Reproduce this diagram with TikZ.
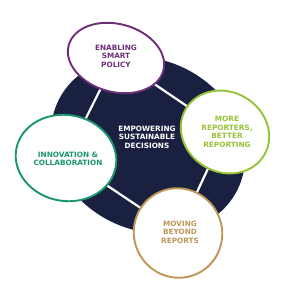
\documentclass[tikz,border=0pt]{standalone}
\usepackage{fontspec}
\setmainfont{DejaVu Sans}
\definecolor{navyblue}{RGB}{26,33,64}
\definecolor{plum}{RGB}{110,45,120}
\definecolor{lime}{RGB}{150,195,55}
\definecolor{teal}{RGB}{25,150,110}
\definecolor{ochre}{RGB}{190,150,85}
\usetikzlibrary{shapes.geometric}

\begin{document}
\begin{tikzpicture}[x=1pt, y=1pt,
    bubble/.style={ellipse, fill=white, line width=1.9pt, inner sep=0pt},
    label/.style={font=\fontsize{7.3}{8.5}\selectfont\bfseries, align=center},
    link/.style={white, line width=2.2pt},
  ]
    \useasboundingbox (0,0) rectangle (300,300);
    % dark disc behind everything
    \fill[navyblue, rotate around={-27:(148,155)}] (148,155) ellipse [x radius=100, y radius=85];
    \node[label, text=white] (core) at (147,163) {EMPOWERING\\SUSTAINABLE\\DECISIONS};
    % white gaps between the outer bubbles
    \coordinate (cpolicy) at (116,242);
    \coordinate (creport) at (225,168);
    \coordinate (cbeyond) at (178,67);
    \coordinate (cinnov) at (66,142);
    \draw[link] (cpolicy) -- (creport) -- (cbeyond) -- (cinnov) -- (cpolicy);
    \node[bubble, draw=plum, minimum width=98pt, minimum height=68pt, rotate=-15] (policy) at (cpolicy) {};
    \node[bubble, draw=lime, minimum width=91pt, minimum height=80pt, rotate=-30] (report) at (creport) {};
    \node[bubble, draw=ochre, minimum width=90pt, minimum height=88pt, rotate=-60] (beyond) at (cbeyond) {};
    \node[bubble, draw=teal, minimum width=101pt, minimum height=86pt, rotate=-10] (innov) at (cinnov) {};
    \node[label, text=plum] (policytxt) at (116,244) {ENABLING\\SMART\\POLICY};
    \node[label, text=lime] (reporttxt) at (227,168) {MORE\\REPORTERS,\\BETTER\\REPORTING};
    \node[label, text=ochre] (beyondtxt) at (180,68) {MOVING\\BEYOND\\REPORTS};
    \node[label, text=teal] (innovtxt) at (68,141) {INNOVATION \&\\COLLABORATION};
  \end{tikzpicture}
\end{document}
